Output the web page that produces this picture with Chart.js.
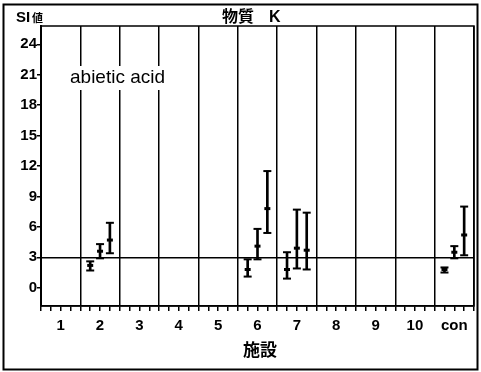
<!DOCTYPE html>
<html lang="ja">
<head>
<meta charset="UTF-8">
<title>物質 K</title>
<script src="https://cdn.jsdelivr.net/npm/chart.js"></script>
<style>
  body { margin: 0; background: #fff; }
  #wrap { width: 481px; height: 372px; }
</style>
</head>
<body>
<div id="wrap"><canvas id="myChart" width="481" height="372"></canvas></div>
<script>
// categories (施設) and three sub-series per facility
var categories = ['1', '2', '3', '4', '5', '6', '7', '8', '9', '10', 'con'];

var meansA = [null, 2.2, null, null, null, 1.8, 1.8, null, null, null, 1.8];
var lowsA  = [null, 1.7, null, null, null, 1.1, 0.9, null, null, null, 1.5];
var highsA = [null, 2.6, null, null, null, 2.8, 3.5, null, null, null, 2.0];

var meansB = [null, 3.6, null, null, null, 4.1, 3.9, null, null, null, 3.5];
var lowsB  = [null, 2.9, null, null, null, 2.8, 1.9, null, null, null, 2.9];
var highsB = [null, 4.3, null, null, null, 5.8, 7.7, null, null, null, 4.1];

var meansC = [null, 4.7, null, null, null, 7.8, 3.7, null, null, null, 5.2];
var lowsC  = [null, 3.4, null, null, null, 5.4, 1.8, null, null, null, 3.2];
var highsC = [null, 6.4, null, null, null, 11.5, 7.4, null, null, null, 8.0];

var yTicks = [0, 3, 6, 9, 12, 15, 18, 21, 24];
var refLine = 3;

var series = [
    { means: meansA, lows: lowsA, highs: highsA },
    { means: meansB, lows: lowsB, highs: highsB },
    { means: meansC, lows: lowsC, highs: highsC }
];

// each facility takes 4 units on the x scale; sub-series sit at +1, +2, +3
var slot = 4;
var datasets = [];
series.forEach(function (s, k) {
    var bars = [], lo = [], hi = [], mid = [];
    categories.forEach(function (c, i) {
        if (s.means[i] === null) return;
        var x = slot * i + 1 + k;
        bars.push({ x: x, y: [s.lows[i], s.highs[i]] });
        lo.push({ x: x, y: s.lows[i] });
        hi.push({ x: x, y: s.highs[i] });
        mid.push({ x: x, y: s.means[i] });
    });
    datasets.push({ type: 'bar', data: bars, backgroundColor: '#000', barThickness: 2, grouped: false });
    datasets.push({ type: 'scatter', data: lo, pointStyle: 'line', radius: 4, borderWidth: 2, borderColor: '#000' });
    datasets.push({ type: 'scatter', data: hi, pointStyle: 'line', radius: 4, borderWidth: 2, borderColor: '#000' });
    datasets.push({ type: 'scatter', data: mid, pointStyle: 'line', radius: 3, borderWidth: 3, borderColor: '#000' });
});

var xTickValues = [];
for (var v = 0; v <= slot * categories.length; v++) xTickValues.push(v);

var font = "'Liberation Sans', 'Noto Sans CJK JP', sans-serif";

// texts and frames
var decor = {
    id: 'decor',
    beforeDraw: function (chart) {
        var ctx = chart.ctx;
        ctx.save();
        ctx.fillStyle = '#fff';
        ctx.fillRect(0, 0, chart.width, chart.height);
        ctx.restore();
    },
    afterDraw: function (chart) {
        var ctx = chart.ctx, a = chart.chartArea;
        ctx.save();
        ctx.strokeStyle = '#000';
        ctx.lineWidth = 2;
        ctx.strokeRect(3.5, 4.5, 474, 365);
        ctx.lineWidth = 1.5;
        ctx.strokeRect(a.left, a.top, a.right - a.left, a.bottom - a.top);

        ctx.fillStyle = '#000';
        ctx.textBaseline = 'middle';
        ctx.textAlign = 'left';
        ctx.font = 'bold 15px ' + font;
        ctx.fillText('SI', 16, 18);
        ctx.font = 'bold 11px ' + font;
        ctx.fillText('値', 32, 19);

        ctx.font = 'bold 16px ' + font;
        ctx.fillText('物質', 222, 18);
        ctx.fillText('K', 269, 18);

        ctx.textAlign = 'center';
        ctx.font = 'bold 17px ' + font;
        ctx.fillText('施設', 260, 351);

        ctx.textAlign = 'left';
        ctx.font = '19px ' + font;
        var label = 'abietic acid';
        var w = ctx.measureText(label).width;
        ctx.fillStyle = '#fff';
        ctx.fillRect(68, 66, w + 4, 24);
        ctx.fillStyle = '#000';
        ctx.fillText(label, 70, 78);
        ctx.restore();
    }
};

var ctx = document.getElementById('myChart').getContext('2d');
var myChart = new Chart(ctx, {
    type: 'bar',
    data: { datasets: datasets },
    options: {
        responsive: false,
        animation: false,
        layout: { padding: { left: 0, top: 26, right: 4, bottom: 26 } },
        plugins: { legend: { display: false }, tooltip: { enabled: false }, title: { display: false } },
        scales: {
            x: {
                type: 'linear',
                min: 0,
                max: slot * categories.length,
                offset: false,
                afterBuildTicks: function (scale) {
                    scale.ticks = xTickValues.map(function (v) { return { value: v }; });
                },
                afterFit: function (scale) { scale.height = 40; },
                border: { display: true, color: '#000', width: 1.5 },
                grid: {
                    offset: false,
                    color: function (c) { return c.tick && c.tick.value % slot === 0 ? '#000' : 'rgba(0,0,0,0)'; },
                    lineWidth: 1.5,
                    tickColor: '#000',
                    tickLength: 5
                },
                ticks: {
                    autoSkip: false,
                    maxRotation: 0,
                    padding: 6,
                    color: '#000',
                    font: { family: font, size: 15, weight: 'bold' },
                    callback: function (value) {
                        return value % slot === 2 ? categories[(value - 2) / slot] : '';
                    }
                }
            },
            y: {
                min: -1.8,
                max: 25.8,
                afterBuildTicks: function (scale) {
                    scale.ticks = yTicks.map(function (v) { return { value: v }; });
                },
                afterFit: function (scale) { scale.width = 41; },
                border: { display: true, color: '#000', width: 2 },
                grid: {
                    color: function (c) { return c.tick && c.tick.value === refLine ? '#000' : 'rgba(0,0,0,0)'; },
                    lineWidth: 1.5,
                    tickColor: '#000',
                    tickLength: 4
                },
                ticks: {
                    padding: 0,
                    color: '#000',
                    font: { family: font, size: 15, weight: 'bold' }
                }
            }
        }
    },
    plugins: [decor]
});
</script>
</body>
</html>
